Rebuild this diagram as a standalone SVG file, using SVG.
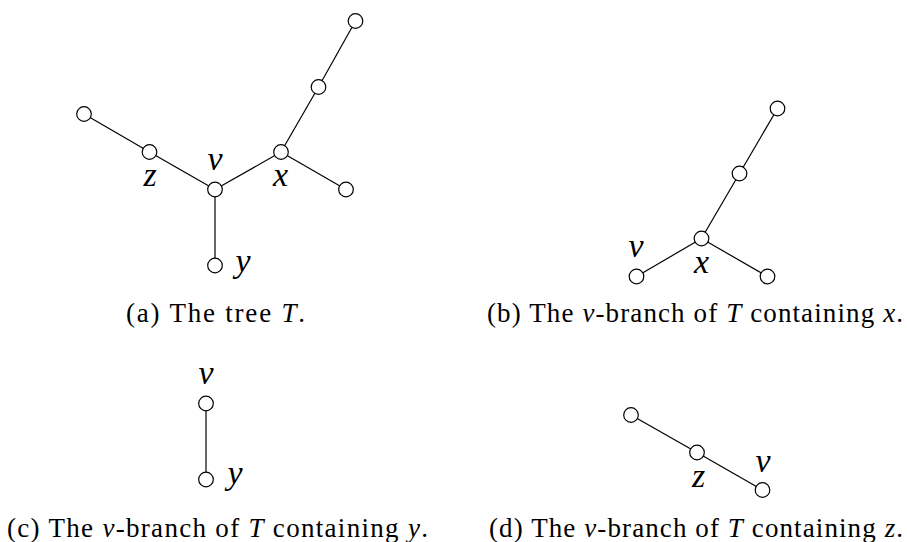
<svg xmlns="http://www.w3.org/2000/svg" width="907" height="542" viewBox="0 0 907 542">
<style>
.edge{stroke:#000;stroke-width:1.2;fill:none}
.node{fill:#fff;stroke:#000;stroke-width:1.2}
.lbl{font-style:italic;font-size:34px;text-anchor:middle;fill:#000}
.cap{font-size:27px;fill:#000}
.it{font-style:italic}
</style>
<rect width="907" height="542" fill="#fff"/>
<g id="connectors">
<line class="edge" x1="84" y1="114" x2="149.5" y2="152"/>
<line class="edge" x1="149.5" y1="152" x2="215" y2="189.5"/>
<line class="edge" x1="215" y1="189.5" x2="281" y2="152"/>
<line class="edge" x1="281" y1="152" x2="346" y2="189.5"/>
<line class="edge" x1="281" y1="152" x2="318.5" y2="87"/>
<line class="edge" x1="318.5" y1="87" x2="355.5" y2="21"/>
<line class="edge" x1="215" y1="189.5" x2="215" y2="265.5"/>
<line class="edge" x1="636.5" y1="276.5" x2="701.5" y2="238.5"/>
<line class="edge" x1="701.5" y1="238.5" x2="767.5" y2="276.5"/>
<line class="edge" x1="701.5" y1="238.5" x2="739.5" y2="173.5"/>
<line class="edge" x1="739.5" y1="173.5" x2="777.5" y2="108.5"/>
<line class="edge" x1="206" y1="403.5" x2="206" y2="479.5"/>
<line class="edge" x1="631" y1="415" x2="697" y2="452.5"/>
<line class="edge" x1="697" y1="452.5" x2="762.5" y2="490"/>
</g>
<g font-family="'Liberation Serif', 'Times New Roman', 'DejaVu Serif', serif">
<g id="a-left"><circle class="node" cx="84" cy="114" r="7.3"/></g>
<g id="a-z"><circle class="node" cx="149.5" cy="152" r="7.3"/><text class="lbl" x="150" y="186">z</text></g>
<g id="a-v"><circle class="node" cx="215" cy="189.5" r="7.3"/><text class="lbl" x="215" y="170">v</text></g>
<g id="a-x"><circle class="node" cx="281" cy="152" r="7.3"/><text class="lbl" x="280.5" y="186">x</text></g>
<g id="a-right"><circle class="node" cx="346" cy="189.5" r="7.3"/></g>
<g id="a-mid"><circle class="node" cx="318.5" cy="87" r="7.3"/></g>
<g id="a-top"><circle class="node" cx="355.5" cy="21" r="7.3"/></g>
<g id="a-y"><circle class="node" cx="215" cy="265.5" r="7.3"/><text class="lbl" x="243" y="272">y</text></g>
<g id="b-v"><circle class="node" cx="636.5" cy="276.5" r="7.3"/><text class="lbl" x="636" y="257">v</text></g>
<g id="b-x"><circle class="node" cx="701.5" cy="238.5" r="7.3"/><text class="lbl" x="701.5" y="273">x</text></g>
<g id="b-right"><circle class="node" cx="767.5" cy="276.5" r="7.3"/></g>
<g id="b-mid"><circle class="node" cx="739.5" cy="173.5" r="7.3"/></g>
<g id="b-top"><circle class="node" cx="777.5" cy="108.5" r="7.3"/></g>
<g id="c-v"><circle class="node" cx="206" cy="403.5" r="7.3"/><text class="lbl" x="206" y="384">v</text></g>
<g id="c-y"><circle class="node" cx="206" cy="479.5" r="7.3"/><text class="lbl" x="235" y="484">y</text></g>
<g id="d-left"><circle class="node" cx="631" cy="415" r="7.3"/></g>
<g id="d-z"><circle class="node" cx="697" cy="452.5" r="7.3"/><text class="lbl" x="698.5" y="487">z</text></g>
<g id="d-v"><circle class="node" cx="762.5" cy="490" r="7.3"/><text class="lbl" x="763" y="472">v</text></g>
<g id="captions">
<text class="cap" x="126" y="322" textLength="179" lengthAdjust="spacing">(a) The tree <tspan class="it">T</tspan>.</text>
<text class="cap" x="487" y="322" textLength="416" lengthAdjust="spacing">(b) The <tspan class="it">v</tspan>-branch of <tspan class="it">T</tspan> containing <tspan class="it">x</tspan>.</text>
<text class="cap" x="7" y="537" textLength="421" lengthAdjust="spacing">(c) The <tspan class="it">v</tspan>-branch of <tspan class="it">T</tspan> containing <tspan class="it">y</tspan>.</text>
<text class="cap" x="489" y="537" textLength="414" lengthAdjust="spacing">(d) The <tspan class="it">v</tspan>-branch of <tspan class="it">T</tspan> containing <tspan class="it">z</tspan>.</text>
</g>
</g>
</svg>
